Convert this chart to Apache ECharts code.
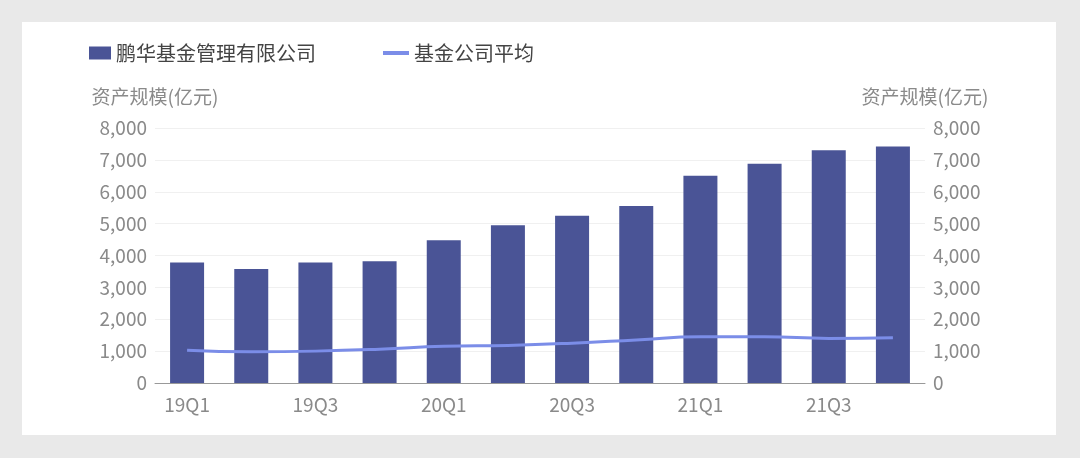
<!DOCTYPE html><html><head><meta charset="utf-8"><script src="https://cdn.jsdelivr.net/npm/echarts@6/dist/echarts.min.js"></script>
<style>html,body{margin:0;background:#e9e9e9}#wrap{position:absolute;left:22px;top:22px;width:1034px;height:413px;background:#fff}#c{position:absolute;left:0;top:0;width:1080px;height:458px}</style></head><body><div id="wrap"></div><div id="c"></div><script>
const categories=['19Q1','19Q2','19Q3','19Q4','20Q1','20Q2','20Q3','20Q4','21Q1','21Q2','21Q3','21Q4'];
const penghua=[3780,3580,3780,3820,4480,4950,5250,5550,6500,6880,7300,7420];
const average=[1030,980,1000,1060,1150,1180,1250,1350,1450,1450,1400,1420];
const ch=echarts.init(document.getElementById('c'));
const txt={color:'#8a8a8a',fontSize:19,fontFamily:'Noto Sans CJK SC'};
const yAx=(pos)=>({type:'value',position:pos,min:0,max:8000,interval:1000,name:'资产规模(亿元)',nameGap:22,nameTextStyle:Object.assign({},txt),axisLabel:Object.assign({},txt,{formatter:v=>v.toLocaleString('en-US')}),splitLine:{lineStyle:{color:'#f0f0f0'}},axisLine:{show:false},axisTick:{show:false}});
const lt=Object.assign({},txt,{color:'#444',fontSize:20});
ch.setOption({
legend:[{left:84,top:38,itemWidth:22,itemHeight:13,textStyle:lt,data:[{name:'鹏华基金管理有限公司',icon:'rect'}]},
{left:378,top:38,itemWidth:26,itemHeight:4,textStyle:lt,data:[{name:'基金公司平均',icon:'rect'}]}],
grid:{left:155,right:155,top:128,bottom:75},
xAxis:{type:'category',data:categories,axisLabel:Object.assign({},txt,{interval:1,margin:12}),axisLine:{lineStyle:{color:'#999'}},axisTick:{show:false}},
yAxis:[yAx('left'),yAx('right')],
series:[{name:'鹏华基金管理有限公司',type:'bar',data:penghua,barWidth:34,itemStyle:{color:'#4a5496'}},
{name:'基金公司平均',type:'line',data:average,smooth:true,symbol:'none',lineStyle:{color:'#7b8de8',width:3},itemStyle:{color:'#7b8de8'}}]
});
</script></body></html>
